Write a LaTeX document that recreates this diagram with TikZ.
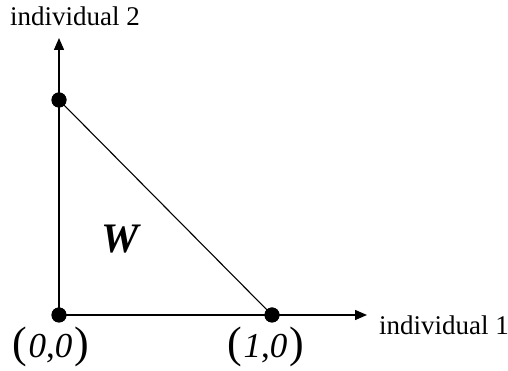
\documentclass[tikz,border=0pt]{standalone}
\usepackage{fontspec}
\setmainfont{Liberation Serif}
\usetikzlibrary{arrows.meta}
\newcommand{\pairlbl}[2]{{\fontsize{44}{48}\selectfont(}\kern1pt{\fontsize{35}{38}\selectfont\itshape #1}{\fontsize{35}{38}\selectfont,}{\fontsize{35}{38}\selectfont\itshape #2}\kern2pt{\fontsize{44}{48}\selectfont)}}
\begin{document}
\begin{tikzpicture}[x=1pt,y=1pt,
  axis/.style={line width=1.4pt,-{Triangle[length=12pt,width=10pt]}},
  edge/.style={line width=1.1pt},
  dot/.style={circle,fill=black,inner sep=0pt,minimum size=15pt},
  lbl/.style={font=\fontsize{27}{30}\selectfont,anchor=base,inner sep=0pt},
  coordlbl/.style={anchor=base,inner sep=0pt},
  wlbl/.style={font=\fontsize{42}{46}\selectfont\bfseries\itshape,inner sep=0pt}]
\useasboundingbox (0,0) rectangle (508,371);
\coordinate (o) at (59,56);
\coordinate (ytip) at (59,333);
\coordinate (xtip) at (367,56);
\node[dot] (top) at (59,271) {};
\node[dot] (org) at (59,56) {};
\node[dot] (right) at (272,56) {};
\draw[axis] (o) -- (ytip);
\draw[axis] (o) -- (xtip);
\draw[edge] (top.center) -- (right.center);
\node[dot] at (top) {};
\node[dot] at (org) {};
\node[dot] at (right) {};
\node[lbl] (l2) at (75,345) {individual 2};
\node[lbl,anchor=base west] (l1) at (379,36) {individual 1};
\node[coordlbl] (c00) at (51,13) {\pairlbl{0}{0}};
\node[coordlbl] (c10) at (266,13) {\pairlbl{1}{0}};
\node[wlbl] (w) at (120,132) {W};
\end{tikzpicture}
\end{document}
